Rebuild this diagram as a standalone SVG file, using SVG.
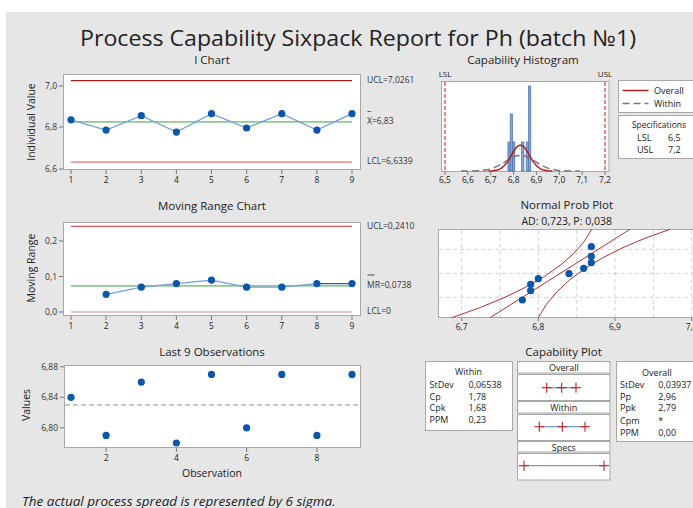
<svg xmlns="http://www.w3.org/2000/svg" width="693" height="508" viewBox="0 0 693 508">
<style>
text{font-family:"Open Sans","Noto Sans","Liberation Sans",sans-serif;fill:#222}
.t1{font-size:22px}
.st{font-size:11.5px;text-anchor:middle}
.tk{font-size:8.5px;fill:#333}
.tm{text-anchor:middle}
.te{text-anchor:end}
.ax{font-size:10.5px;text-anchor:middle}
.lb{font-size:8.5px;fill:#333}
.sm{font-size:9px}
.frame{fill:#fff;stroke:#a8a8a8;stroke-width:1}
.tick{stroke:#777;stroke-width:1}
.pt{fill:#0a56a8}
.conn{fill:none;stroke:#6fa0d8;stroke-width:1.3}
.ctr{stroke:#5cb85c;stroke-width:1.3}
.ucl{stroke:#a01c1c;stroke-width:1.2}
.lcl{stroke:#dc7676;stroke-width:1.2}
.mrl{stroke:#d45858;stroke-width:1.2}
.grid{stroke:#c8c8c8;stroke-width:0.8;stroke-dasharray:4 3}
.ci{fill:none;stroke:#b03232;stroke-width:1}
.bar{fill:#7fa6d8;stroke:#4a6ea3;stroke-width:0.7}
.spec{stroke:#d83c3c;stroke-width:1.2;stroke-dasharray:4 2}
.box{fill:#fff;stroke:#a8a8a8;stroke-width:1}
.cross{stroke:#c02020;stroke-width:1.1}
.cl{stroke:#6fa0d8;stroke-width:1.3}
</style>
<rect x="0" y="0" width="693" height="508" fill="#fff"/>
<rect x="6" y="12" width="687" height="496" fill="#e6e6e6"/>
<text class="t1" x="358" y="46" text-anchor="middle" textLength="556" lengthAdjust="spacingAndGlyphs" style="font-weight:500">Process Capability Sixpack Report for Ph (batch №1)</text>

<!-- I Chart -->
<g id="ichart">
<text class="st" x="212" y="64">I Chart</text>
<rect class="frame" x="63.5" y="74.5" width="297" height="95"/>
<line class="ucl" x1="71" y1="80.6" x2="352" y2="80.6"/>
<line class="lcl" x1="71" y1="162.1" x2="352" y2="162.1"/>
<line class="ctr" x1="71" y1="121.8" x2="352" y2="121.8"/>
<polyline class="conn" points="71,119.8 106.1,130.1 141.3,115.7 176.4,132.1 211.5,113.7 246.6,128 281.8,113.7 316.9,130.1 352,113.7"/>
<g class="pt">
<circle cx="71" cy="119.8" r="3.6"/><circle cx="106.1" cy="130.1" r="3.6"/><circle cx="141.3" cy="115.7" r="3.6"/><circle cx="176.4" cy="132.1" r="3.6"/><circle cx="211.5" cy="113.7" r="3.6"/><circle cx="246.6" cy="128" r="3.6"/><circle cx="281.8" cy="113.7" r="3.6"/><circle cx="316.9" cy="130.1" r="3.6"/><circle cx="352" cy="113.7" r="3.6"/>
</g>
<g class="tick">
<line x1="59" y1="86" x2="63" y2="86"/><line x1="59" y1="127" x2="63" y2="127"/><line x1="59" y1="169" x2="63" y2="169"/>
<line x1="71" y1="170" x2="71" y2="174"/><line x1="106.1" y1="170" x2="106.1" y2="174"/><line x1="141.3" y1="170" x2="141.3" y2="174"/><line x1="176.4" y1="170" x2="176.4" y2="174"/><line x1="211.5" y1="170" x2="211.5" y2="174"/><line x1="246.6" y1="170" x2="246.6" y2="174"/><line x1="281.8" y1="170" x2="281.8" y2="174"/><line x1="316.9" y1="170" x2="316.9" y2="174"/><line x1="352" y1="170" x2="352" y2="174"/>
</g>
<text class="tk te" x="57" y="89">7,0</text><text class="tk te" x="57" y="130">6,8</text><text class="tk te" x="57" y="172">6,6</text>
<g class="tk tm">
<text x="71" y="182.5">1</text><text x="106.1" y="182.5">2</text><text x="141.3" y="182.5">3</text><text x="176.4" y="182.5">4</text><text x="211.5" y="182.5">5</text><text x="246.6" y="182.5">6</text><text x="281.8" y="182.5">7</text><text x="316.9" y="182.5">8</text><text x="352" y="182.5">9</text>
</g>
<text class="ax" transform="translate(35,122) rotate(-90)">Individual Value</text>
<text class="lb" x="367" y="82.5">UCL=7,0261</text>
<text class="lb" x="367" y="114">–</text>
<text class="lb" x="367" y="124">X=6,83</text>
<text class="lb" x="367" y="164">LCL=6,6339</text>
</g>

<!-- Moving Range -->
<g id="mrchart">
<text class="st" x="212" y="209.5">Moving Range Chart</text>
<rect class="frame" x="63.5" y="222.5" width="297" height="93"/>
<line class="mrl" x1="71" y1="226.4" x2="352" y2="226.4"/>
<line class="mrl" x1="71" y1="312" x2="352" y2="312" style="stroke:#e08a8a"/>
<line class="ctr" x1="71" y1="285.8" x2="352" y2="285.8"/>
<polyline class="conn" points="106.1,294.3 141.3,287.2 176.4,283.6 211.5,280.1 246.6,287.2 281.8,287.2 316.9,283.6"/>
<line x1="316.9" y1="283.6" x2="352" y2="283.6" stroke="#2a62a8" stroke-width="1.3"/>
<g class="pt">
<circle cx="106.1" cy="294.3" r="3.6"/><circle cx="141.3" cy="287.2" r="3.6"/><circle cx="176.4" cy="283.6" r="3.6"/><circle cx="211.5" cy="280.1" r="3.6"/><circle cx="246.6" cy="287.2" r="3.6"/><circle cx="281.8" cy="287.2" r="3.6"/><circle cx="316.9" cy="283.6" r="3.6"/><circle cx="352" cy="283.6" r="3.6"/>
</g>
<g class="tick">
<line x1="59" y1="241" x2="63" y2="241"/><line x1="59" y1="276.5" x2="63" y2="276.5"/><line x1="59" y1="312" x2="63" y2="312"/>
<line x1="71" y1="316" x2="71" y2="320"/><line x1="106.1" y1="316" x2="106.1" y2="320"/><line x1="141.3" y1="316" x2="141.3" y2="320"/><line x1="176.4" y1="316" x2="176.4" y2="320"/><line x1="211.5" y1="316" x2="211.5" y2="320"/><line x1="246.6" y1="316" x2="246.6" y2="320"/><line x1="281.8" y1="316" x2="281.8" y2="320"/><line x1="316.9" y1="316" x2="316.9" y2="320"/><line x1="352" y1="316" x2="352" y2="320"/>
</g>
<text class="tk te" x="57" y="244">0,2</text><text class="tk te" x="57" y="279.5">0,1</text><text class="tk te" x="57" y="315">0,0</text>
<g class="tk tm">
<text x="71" y="328.5">1</text><text x="106.1" y="328.5">2</text><text x="141.3" y="328.5">3</text><text x="176.4" y="328.5">4</text><text x="211.5" y="328.5">5</text><text x="246.6" y="328.5">6</text><text x="281.8" y="328.5">7</text><text x="316.9" y="328.5">8</text><text x="352" y="328.5">9</text>
</g>
<text class="ax" transform="translate(35,268) rotate(-90)">Moving Range</text>
<text class="lb" x="367" y="229">UCL=0,2410</text>
<line x1="367.5" y1="275" x2="374.5" y2="275" stroke="#333" stroke-width="0.9"/>
<text class="lb" x="367" y="288">MR=0,0738</text>
<text class="lb" x="367" y="314">LCL=0</text>
</g>

<!-- Last 9 Observations -->
<g id="last9">
<text class="st" x="212" y="356">Last 9 Observations</text>
<rect class="frame" x="64.5" y="365.5" width="296" height="82"/>
<line x1="65" y1="405" x2="360" y2="405" stroke="#909090" stroke-width="1" stroke-dasharray="5 3"/>
<g class="pt">
<circle cx="71" cy="397.3" r="3.6"/><circle cx="106.1" cy="435.4" r="3.6"/><circle cx="141.3" cy="382.1" r="3.6"/><circle cx="176.4" cy="443" r="3.6"/><circle cx="211.5" cy="374.4" r="3.6"/><circle cx="246.6" cy="427.8" r="3.6"/><circle cx="281.8" cy="374.4" r="3.6"/><circle cx="316.9" cy="435.4" r="3.6"/><circle cx="352" cy="374.4" r="3.6"/>
</g>
<g class="tick">
<line x1="60" y1="366.8" x2="64" y2="366.8"/><line x1="60" y1="397.3" x2="64" y2="397.3"/><line x1="60" y1="427.8" x2="64" y2="427.8"/>
<line x1="106.1" y1="448" x2="106.1" y2="452"/><line x1="176.4" y1="448" x2="176.4" y2="452"/><line x1="246.6" y1="448" x2="246.6" y2="452"/><line x1="316.9" y1="448" x2="316.9" y2="452"/>
</g>
<text class="tk te" x="58" y="369.8">6,88</text><text class="tk te" x="58" y="400.3">6,84</text><text class="tk te" x="58" y="430.8">6,80</text>
<g class="tk tm">
<text x="106.1" y="460.5">2</text><text x="176.4" y="460.5">4</text><text x="246.6" y="460.5">6</text><text x="316.9" y="460.5">8</text>
</g>
<text class="ax" x="212" y="476.5">Observation</text>
<text class="ax" transform="translate(30,405) rotate(-90)">Values</text>
</g>

<text x="22" y="505.5" font-size="13.5" font-style="italic" fill="#222">The actual process spread is represented by 6 sigma.</text>

<!-- Capability Histogram -->
<g id="histogram">
<text class="st" x="523" y="64">Capability Histogram</text>
<rect class="frame" x="441.5" y="81.5" width="167.5" height="90"/>
<g class="bar">
<rect x="507.9" y="142" width="2.3" height="29"/>
<rect x="510.2" y="114" width="2.3" height="57"/>
<rect x="512.5" y="142" width="2.3" height="29"/>
<rect x="521.6" y="142" width="2.3" height="29"/>
<rect x="526.2" y="142" width="2.3" height="29"/>
<rect x="528.5" y="86" width="2.3" height="85"/>
</g>
<path fill="none" stroke="#7a7a7a" stroke-width="1.5" stroke-dasharray="7 4" d="M461,171 L470.1,171 L479.3,170.65 L483.8,170.2 L488.4,169.4 L493,168.1 L497.5,166.1 L502.1,163.6 L506.7,160.7 L511.3,158 L515.8,156 L520.4,155.3 L525,156 L529.5,158 L534.1,160.7 L538.7,163.6 L543.3,166.1 L547.8,168.1 L552.4,169.4 L557,170.2 L561.5,170.65 L570.7,171 L579.8,171"/>
<path fill="none" stroke="#b21e1e" stroke-width="1.5" d="M488.4,171 L493,170.75 L497.5,170 L499.8,169.1 L502.1,167.7 L504.4,165.6 L506.7,162.9 L509,159.4 L511.3,155.5 L513.5,151.6 L515.8,148.1 L518.1,145.8 L520.4,145 L522.7,145.8 L525,148.1 L527.3,151.6 L529.5,155.5 L531.8,159.4 L534.1,162.9 L536.4,165.6 L538.7,167.7 L541,169.1 L543.3,170 L547.9,170.75 L552.4,171"/>
<line class="spec" x1="445" y1="82" x2="445" y2="171"/>
<line class="spec" x1="605" y1="82" x2="605" y2="171"/>
<text x="445" y="77" font-size="8" fill="#b83c3c" text-anchor="middle">LSL</text>
<text x="605" y="77" font-size="8" fill="#b83c3c" text-anchor="middle">USL</text>
<g class="tick">
<line x1="445" y1="171.5" x2="445" y2="175"/><line x1="467.9" y1="171.5" x2="467.9" y2="175"/><line x1="490.7" y1="171.5" x2="490.7" y2="175"/><line x1="513.6" y1="171.5" x2="513.6" y2="175"/><line x1="536.4" y1="171.5" x2="536.4" y2="175"/><line x1="559.3" y1="171.5" x2="559.3" y2="175"/><line x1="582.2" y1="171.5" x2="582.2" y2="175"/><line x1="605" y1="171.5" x2="605" y2="175"/>
</g>
<g class="tk tm">
<text x="445" y="183">6,5</text><text x="467.9" y="183">6,6</text><text x="490.7" y="183">6,7</text><text x="513.6" y="183">6,8</text><text x="536.4" y="183">6,9</text><text x="559.3" y="183">7,0</text><text x="582.2" y="183">7,1</text><text x="605" y="183">7,2</text>
</g>
</g>

<!-- Legend -->
<g id="legend">
<rect class="box" x="618.5" y="80.5" width="76" height="32"/>
<line x1="622.5" y1="90.5" x2="648.5" y2="90.5" stroke="#b21e1e" stroke-width="1.5"/>
<text class="sm" x="654" y="93.5">Overall</text>
<line x1="622.5" y1="103.5" x2="648.5" y2="103.5" stroke="#7a7a7a" stroke-width="1.5" stroke-dasharray="7 4"/>
<text class="sm" x="654" y="106.5">Within</text>
<rect class="box" x="618.5" y="115.5" width="76" height="43"/>
<text class="sm" x="659" y="127.5" text-anchor="middle" style="font-size:8.5px">Specifications</text>
<text class="sm" x="637" y="141">LSL</text><text class="sm" x="668" y="141">6,5</text>
<text class="sm" x="637" y="152.5">USL</text><text class="sm" x="668" y="152.5">7,2</text>
</g>

<!-- Normal Prob Plot -->
<g id="probplot">
<text class="st" x="566.7" y="209">Normal Prob Plot</text>
<text class="st" x="566.7" y="224.5" style="font-size:10.5px">AD: 0,723, P: 0,038</text>
<rect class="frame" x="438.5" y="229.5" width="262" height="88"/>
<g class="grid">
<line x1="461.7" y1="230" x2="461.7" y2="317"/><line x1="500" y1="230" x2="500" y2="317"/><line x1="538.3" y1="230" x2="538.3" y2="317"/><line x1="576.7" y1="230" x2="576.7" y2="317"/><line x1="615" y1="230" x2="615" y2="317"/><line x1="653.3" y1="230" x2="653.3" y2="317"/><line x1="691.7" y1="230" x2="691.7" y2="317"/>
<line x1="439" y1="249.3" x2="693" y2="249.3"/><line x1="439" y1="273.3" x2="693" y2="273.3"/><line x1="439" y1="297.3" x2="693" y2="297.3"/>
</g>
<line x1="490" y1="317.7" x2="630" y2="229.3" stroke="#b03232" stroke-width="1"/>
<path class="ci" d="M451.7,317.7 Q566.4,279.8 591.7,229.3"/>
<path class="ci" d="M538.3,317.7 Q565.2,263.9 670,229.3"/>
<g class="pt">
<circle cx="522.3" cy="300" r="3.6"/><circle cx="530.7" cy="290.7" r="3.6"/><circle cx="530.7" cy="284.3" r="3.6"/><circle cx="538.3" cy="278.7" r="3.6"/><circle cx="569" cy="273.7" r="3.6"/><circle cx="583.7" cy="268.3" r="3.6"/><circle cx="591.3" cy="262.7" r="3.6"/><circle cx="591.3" cy="256.3" r="3.6"/><circle cx="591.3" cy="246.7" r="3.6"/>
</g>
<g class="tick">
<line x1="461.7" y1="318" x2="461.7" y2="321"/><line x1="538.3" y1="318" x2="538.3" y2="321"/><line x1="615" y1="318" x2="615" y2="321"/><line x1="691.7" y1="318" x2="691.7" y2="321"/>
</g>
<g class="tk tm">
<text x="461.7" y="330">6,7</text><text x="538.3" y="330">6,8</text><text x="615" y="330">6,9</text><text x="691.7" y="330">7,0</text>
</g>
</g>

<!-- Capability Plot -->
<g id="capplot">
<text class="st" x="563.5" y="356">Capability Plot</text>
</g>
<g id="within-stats">
<rect class="box" x="425.5" y="361.5" width="87" height="69"/>
<text class="sm" x="468.5" y="375" text-anchor="middle">Within</text>
<text class="sm" x="429.5" y="388">StDev</text><text class="sm" x="468.5" y="388">0,06538</text>
<text class="sm" x="429.5" y="399.7">Cp</text><text class="sm" x="468.5" y="399.7">1,78</text>
<text class="sm" x="429.5" y="411.3">Cpk</text><text class="sm" x="468.5" y="411.3">1,68</text>
<text class="sm" x="429.5" y="423">PPM</text><text class="sm" x="468.5" y="423">0,23</text>
</g>
<g id="intervals">
<rect class="box" x="517.5" y="361.5" width="92.5" height="11.5"/>
<text class="sm" x="563.8" y="371" text-anchor="middle">Overall</text>
<rect class="box" x="517.5" y="374.5" width="92.5" height="26"/>
<line class="cl" x1="546.7" y1="387.7" x2="576" y2="387.7"/>
<g class="cross">
<line x1="541.7" y1="387.7" x2="551.7" y2="387.7"/><line x1="546.7" y1="382.7" x2="546.7" y2="392.7"/>
<line x1="556.7" y1="387.7" x2="566.7" y2="387.7"/><line x1="561.7" y1="382.7" x2="561.7" y2="392.7"/>
<line x1="571" y1="387.7" x2="581" y2="387.7"/><line x1="576" y1="382.7" x2="576" y2="392.7"/>
</g>
<rect class="box" x="517.5" y="401.5" width="92.5" height="11.5"/>
<text class="sm" x="563.8" y="411" text-anchor="middle">Within</text>
<rect class="box" x="517.5" y="414.5" width="92.5" height="26"/>
<line class="cl" x1="539.3" y1="426.7" x2="585" y2="426.7"/>
<g class="cross">
<line x1="534.3" y1="426.7" x2="544.3" y2="426.7"/><line x1="539.3" y1="421.7" x2="539.3" y2="431.7"/>
<line x1="557.3" y1="426.7" x2="567.3" y2="426.7"/><line x1="562.3" y1="421.7" x2="562.3" y2="431.7"/>
<line x1="580" y1="426.7" x2="590" y2="426.7"/><line x1="585" y1="421.7" x2="585" y2="431.7"/>
</g>
<rect class="box" x="517.5" y="441.5" width="92.5" height="10.5"/>
<text class="sm" x="563.8" y="450.5" text-anchor="middle">Specs</text>
<rect class="box" x="517.5" y="453.5" width="92.5" height="26.5"/>
<line class="cl" x1="524" y1="465.7" x2="604" y2="465.7"/>
<g class="cross">
<line x1="519" y1="465.7" x2="529" y2="465.7"/><line x1="524" y1="460.7" x2="524" y2="470.7"/>
<line x1="599" y1="465.7" x2="609" y2="465.7"/><line x1="604" y1="460.7" x2="604" y2="470.7"/>
</g>
</g>
<g id="overall-stats">
<rect class="box" x="616.5" y="361.5" width="80" height="80"/>
<text class="sm" x="657" y="375.5" text-anchor="middle">Overall</text>
<text class="sm" x="620" y="388">StDev</text><text class="sm" x="658.3" y="388">0,03937</text>
<text class="sm" x="620" y="399.7">Pp</text><text class="sm" x="658.3" y="399.7">2,96</text>
<text class="sm" x="620" y="411.3">Ppk</text><text class="sm" x="658.3" y="411.3">2,79</text>
<text class="sm" x="620" y="423.7">Cpm</text><text class="sm" x="658.3" y="423.7">*</text>
<text class="sm" x="620" y="436.3">PPM</text><text class="sm" x="658.3" y="436.3">0,00</text>
</g>
</svg>
